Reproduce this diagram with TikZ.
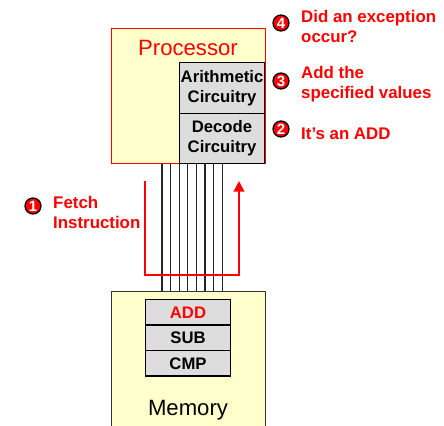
\documentclass[tikz,border=0pt]{standalone}
\usepackage{fontspec}
\setmainfont{Liberation Sans}
\usetikzlibrary{arrows.meta,positioning}
\definecolor{chipyellow}{RGB}{255,255,204}
\definecolor{unitgray}{RGB}{221,221,221}
\definecolor{stepred}{RGB}{255,0,0}

\begin{document}
\begin{tikzpicture}[x=0.02cm,y=-0.02cm,>={Triangle[width=6pt,length=6pt]},
 chip/.style={draw,fill=chipyellow,line width=0.6pt,anchor=north west,inner sep=0},
 unit/.style={draw,fill=unitgray,line width=0.6pt,minimum width=1.7cm,inner sep=0,font=\fontsize{9.5}{11.5}\selectfont\bfseries,align=center},
 instr/.style={unit,minimum height=0.51cm},
 stepmark/.style={circle,fill=stepred,draw=black,line width=0.7pt,minimum size=0.32cm,inner sep=0,text=white,font=\fontsize{8.5}{8.5}\selectfont\bfseries},
 steptext/.style={anchor=west,text=stepred,align=left,font=\fontsize{9.6}{11.4}\selectfont\bfseries}]
\useasboundingbox (0,0) rectangle (444,426);
\clip (0,0) rectangle (444,426);
\node[chip,draw=stepred,minimum width=3.08cm,minimum height=2.7cm] (proc) at (111,28) {};
\node[text=stepred,font=\fontsize{12.6}{14}\selectfont] (proclabel) at (188,48) {Processor};
\node[unit,minimum height=1.02cm,anchor=north west] (arith) at (179,62) {Arithmetic\\Circuitry};
\node[unit,minimum height=1.0cm,below=-0.6pt of arith] (decode) {Decode\\Circuitry};
\node[chip,draw=black!80,minimum width=3.08cm,minimum height=3.2cm] (mem) at (111,291) {};
\node[font=\fontsize{12.6}{14}\selectfont] (memlabel) at (188,410) {Memory};
\node[instr,text=stepred,anchor=north west] (add) at (145,299) {ADD};
\node[instr,below=-0.6pt of add] (sub) {SUB};
\node[instr,below=-0.6pt of sub] (cmp) {CMP};
\foreach \i in {0,...,7} {
 \draw[black!85,line width=0.6pt] (proc.south -| {162+8.6*\i},0) -- (mem.north -| {162+8.6*\i},0);
}
\coordinate (fetchtop) at (145,181);
\coordinate (fetchend) at (239,181);
\draw[->,stepred,line width=1.1pt] (fetchtop) -- (145,275) -- (239,275) -- (fetchend);
\node[stepmark] (s1) at (33,206) {1};
\node[steptext] (t1) at (47,212) {Fetch\\Instruction};
\node[stepmark] (s2) at (281,129) {2};
\node[steptext] (t2) at (295,134) {It’s an ADD};
\node[stepmark] (s3) at (281,81) {3};
\node[steptext] (t3) at (295,84) {Add the\\specified values};
\node[stepmark] (s4) at (281,23) {4};
\node[steptext] (t4) at (295,26.5) {Did an exception\\occur?};
\end{tikzpicture}
\end{document}
